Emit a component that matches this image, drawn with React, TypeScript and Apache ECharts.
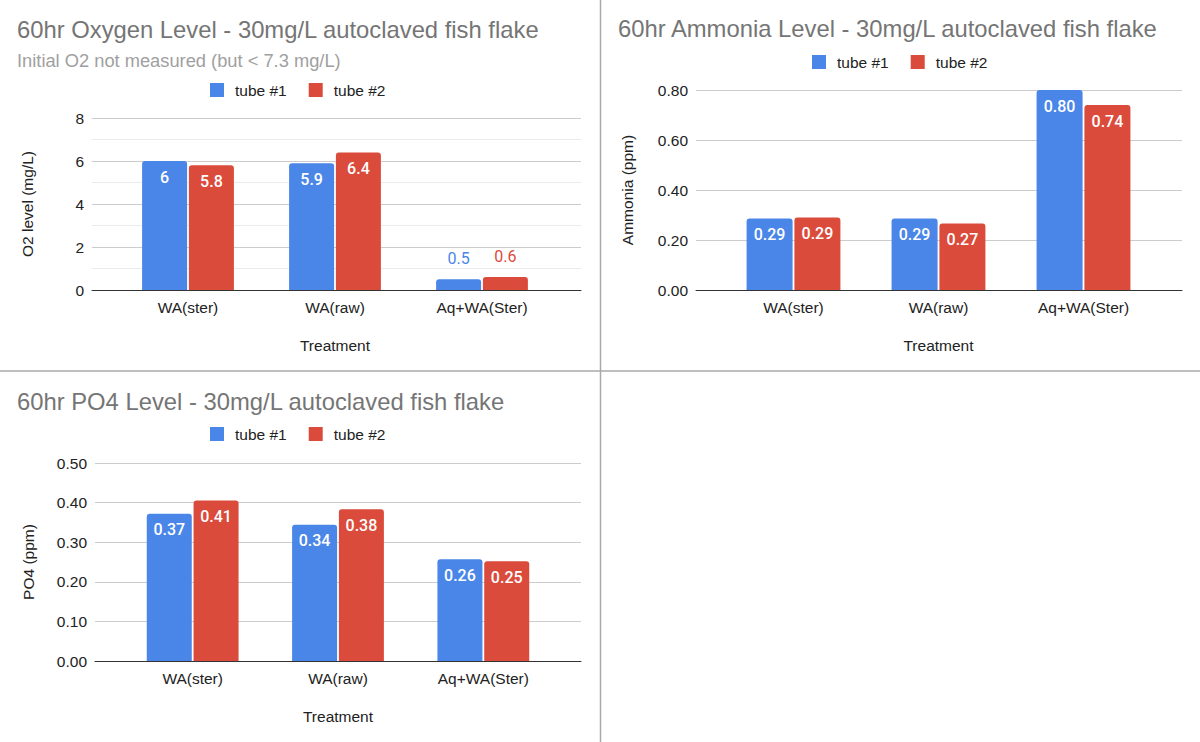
import React, { useEffect, useRef } from 'react';
import * as echarts from 'echarts';

const categories = ['WA(ster)', 'WA(raw)', 'Aq+WA(Ster)'];
const seriesNames = ['tube #1', 'tube #2'];

const o2Tube1 = [6.0, 5.9, 0.5];
const o2Tube2 = [5.8, 6.4, 0.6];
const o2TickLabels = ['0', '2', '4', '6', '8'];

const ammoniaTube1 = [0.286, 0.286, 0.8];
const ammoniaTube2 = [0.29, 0.266, 0.74];
const ammoniaTickLabels = ['0.00', '0.20', '0.40', '0.60', '0.80'];

const po4Tube1 = [0.372, 0.344, 0.257];
const po4Tube2 = [0.405, 0.383, 0.252];
const po4TickLabels = ['0.00', '0.10', '0.20', '0.30', '0.40', '0.50'];

const FONT = "'Liberation Sans', Arial, Helvetica, sans-serif";
const LABEL_FONT = "Roboto, 'Liberation Sans', Arial, sans-serif";
const COLORS = ['#4a86e8', '#db4b3c'];

type Panel = {
  title: string;
  subtitle?: string;
  yName: string;
  xName: string;
  ticks: string[];
  tube1: number[];
  tube2: number[];
  decimals: number | null;
  minor: boolean;
  titlePos: { left: number; top: number };
  legendPos: { left: number; top: number };
  gridA: { left: number; top: number; width: number; height: number };
  gridB: { left: number; width: number };
  barWidth: number;
  yNameGap: number;
};

const panels: Panel[] = [
  {
    title: '60hr Oxygen Level - 30mg/L autoclaved fish flake',
    subtitle: 'Initial O2 not measured (but < 7.3 mg/L)',
    yName: 'O2 level (mg/L)',
    xName: 'Treatment',
    ticks: o2TickLabels,
    tube1: o2Tube1,
    tube2: o2Tube2,
    decimals: null,
    minor: true,
    titlePos: { left: 17, top: 17 },
    legendPos: { left: 210, top: 82 },
    gridA: { left: 92, top: 118, width: 489, height: 172 },
    gridB: { left: 114.5, width: 441 },
    barWidth: 45,
    yNameGap: 57,
  },
  {
    title: '60hr Ammonia Level - 30mg/L autoclaved fish flake',
    yName: 'Ammonia (ppm)',
    xName: 'Treatment',
    ticks: ammoniaTickLabels,
    tube1: ammoniaTube1,
    tube2: ammoniaTube2,
    decimals: 2,
    minor: false,
    titlePos: { left: 618, top: 16 },
    legendPos: { left: 812, top: 54 },
    gridA: { left: 696, top: 90, width: 486, height: 200 },
    gridB: { left: 721, width: 435 },
    barWidth: 46,
    yNameGap: 61,
  },
  {
    title: '60hr PO4 Level - 30mg/L autoclaved fish flake',
    yName: 'PO4 (ppm)',
    xName: 'Treatment',
    ticks: po4TickLabels,
    tube1: po4Tube1,
    tube2: po4Tube2,
    decimals: 2,
    minor: false,
    titlePos: { left: 17, top: 389 },
    legendPos: { left: 210, top: 426 },
    gridA: { left: 95, top: 463, width: 486, height: 198 },
    gridB: { left: 120, width: 436 },
    barWidth: 45,
    yNameGap: 59,
  },
];

function buildOption() {
  const title: any[] = [];
  const legend: any[] = [];
  const grid: any[] = [];
  const xAxis: any[] = [];
  const yAxis: any[] = [];
  const series: any[] = [];

  panels.forEach((p, i) => {
    const min = Number(p.ticks[0]);
    const max = Number(p.ticks[p.ticks.length - 1]);
    const interval = Number(p.ticks[1]) - Number(p.ticks[0]);
    const fmt = (v: number) => (p.decimals === null ? String(v) : v.toFixed(p.decimals));

    title.push({
      text: p.title,
      subtext: p.subtitle || '',
      left: p.titlePos.left,
      top: p.titlePos.top,
      padding: 0,
      itemGap: 10,
      textStyle: { color: '#757575', fontSize: 23.8, fontWeight: 'normal', fontFamily: FONT },
      subtextStyle: { color: '#a0a0a0', fontSize: 18.3, fontFamily: FONT },
    });

    legend.push({
      data: seriesNames,
      left: p.legendPos.left,
      top: p.legendPos.top,
      padding: 0,
      icon: 'rect',
      itemWidth: 14,
      itemHeight: 14,
      itemGap: 22,
      selectedMode: false,
      textStyle: { color: '#222', fontSize: 15.5, fontFamily: FONT, padding: [0, 0, 0, 6] },
    });

    const a = i * 2;
    const b = i * 2 + 1;
    grid.push({ ...p.gridA, containLabel: false });
    grid.push({ left: p.gridB.left, width: p.gridB.width, top: p.gridA.top, height: p.gridA.height, containLabel: false });

    xAxis.push({
      type: 'category',
      gridIndex: a,
      data: categories,
      axisLine: { show: true, lineStyle: { color: '#333', width: 1 } },
      axisTick: { show: false },
      axisLabel: { show: false },
      splitLine: { show: false },
    });
    yAxis.push({
      type: 'value',
      gridIndex: a,
      min,
      max,
      interval,
      name: p.yName,
      nameLocation: 'middle',
      nameGap: p.yNameGap,
      nameRotate: 90,
      nameTextStyle: { color: '#222', fontSize: 15.5, fontFamily: FONT },
      axisLine: { show: false },
      axisTick: { show: false },
      axisLabel: {
        color: '#222',
        fontSize: 15.5,
        fontFamily: FONT,
        margin: 8,
        formatter: (v: number) => fmt(v),
      },
      splitLine: { show: true, lineStyle: { color: '#cccccc', width: 1 } },
      minorTick: { show: false, splitNumber: 2 },
      minorSplitLine: { show: p.minor, lineStyle: { color: '#ebebeb', width: 1 } },
    });

    xAxis.push({
      type: 'category',
      gridIndex: b,
      data: categories,
      name: p.xName,
      nameLocation: 'middle',
      nameGap: 47,
      nameTextStyle: { color: '#222', fontSize: 15.5, fontFamily: FONT },
      axisLine: { show: false },
      axisTick: { show: false },
      axisLabel: { color: '#222', fontSize: 15.5, fontFamily: FONT, margin: 9 },
      splitLine: { show: false },
    });
    yAxis.push({
      type: 'value',
      gridIndex: b,
      min,
      max,
      interval,
      show: false,
      splitLine: { show: false },
    });

    [p.tube1, p.tube2].forEach((vals, s) => {
      series.push({
        type: 'bar',
        name: seriesNames[s],
        xAxisIndex: b,
        yAxisIndex: b,
        barWidth: p.barWidth,
        barGap: '4%',
        itemStyle: { color: COLORS[s], borderRadius: [3, 3, 0, 0] },
        label: {
          show: true,
          position: 'insideTop',
          distance: 8,
          color: '#ffffff',
          fontSize: 16,
          fontWeight: 500,
          fontFamily: LABEL_FONT,
          formatter: (prm: any) => fmt(prm.value),
        },
        data: vals.map((v) =>
          v / max < 0.15
            ? { value: v, label: { position: 'top', distance: 13, color: COLORS[s], fontWeight: 'normal' } }
            : v
        ),
      });
    });
  });

  return {
    animation: false,
    backgroundColor: '#ffffff',
    textStyle: { fontFamily: FONT },
    title,
    legend,
    grid,
    xAxis,
    yAxis,
    series,
    graphic: [
      { type: 'line', shape: { x1: 600.5, y1: 0, x2: 600.5, y2: 742 }, style: { stroke: '#a9a9a9', lineWidth: 1.5 }, silent: true },
      { type: 'line', shape: { x1: 0, y1: 371, x2: 1200, y2: 371 }, style: { stroke: '#a9a9a9', lineWidth: 1.5 }, silent: true },
    ],
  };
}

export default function App() {
  const ref = useRef<HTMLDivElement>(null);
  useEffect(() => {
    if (!ref.current) return;
    const chart = echarts.init(ref.current, undefined, { renderer: 'svg' });
    chart.setOption(buildOption() as any);
    return () => chart.dispose();
  }, []);
  return (
    <div
      ref={ref}
      style={{ position: 'fixed', left: 0, top: 0, width: 1200, height: 742, background: '#fff' }}
    />
  );
}
